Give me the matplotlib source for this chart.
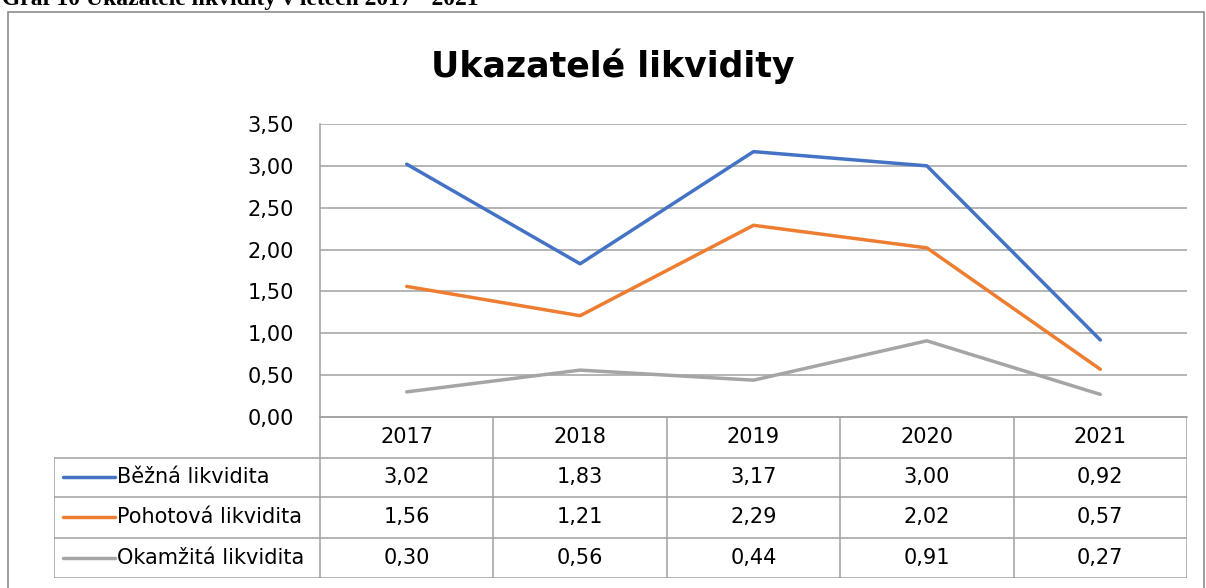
import matplotlib.pyplot as plt
import matplotlib.patches as patches
import numpy as np

# data
years = ['2017', '2018', '2019', '2020', '2021']
bezna = [3.02, 1.83, 3.17, 3.00, 0.92]
pohotova = [1.56, 1.21, 2.29, 2.02, 0.57]
okamzita = [0.30, 0.56, 0.44, 0.91, 0.27]
series_names = ['Běžná likvidita', 'Pohotová likvidita', 'Okamžitá likvidita']
colors = ['#4472C4', '#ED7D31', '#A5A5A5']
yticks = [0.0, 0.5, 1.0, 1.5, 2.0, 2.5, 3.0, 3.5]

plt.rcParams['font.family'] = ['DejaVu Sans']
W, H = 1206, 588
grid_c = '#A0A0A0'
fs = 15

def fx(px):
    return px / W

def fy(py):
    return 1 - py / H

fig = plt.figure(figsize=(W / 100, H / 100), dpi=100)

# caption (cut off at the top of the page, as in the source)
fig.text(fx(2), fy(5), 'Graf 10 Ukazatelé likvidity v letech 2017 - 2021',
         family='Liberation Serif', fontweight='bold', fontsize=17, va='baseline')

# outer chart frame
fig.patches.append(patches.Rectangle((fx(8), fy(590)), fx(1196), fy(12) - fy(590),
                                     transform=fig.transFigure, fill=False,
                                     edgecolor='#8C8C8C', linewidth=1.2))

fig.text(fx(613), fy(66), 'Ukazatelé likvidity', fontsize=25, fontweight='bold',
         ha='center', va='center')

# main plot
L, R, T, B = 320, 1187, 124, 417
ax = fig.add_axes([fx(L), fy(B), fx(R - L), fy(T) - fy(B)])
x = np.arange(len(years))
for vals, c in zip([bezna, pohotova, okamzita], colors):
    ax.plot(x, vals, color=c, linewidth=2.5, solid_capstyle='round')
ax.set_xlim(-0.5, len(years) - 0.5)
ax.set_ylim(0, 3.5)
ax.set_yticks(yticks)
ax.set_yticklabels([f'{v:.2f}'.replace('.', ',') for v in yticks], fontsize=fs)
ax.set_xticks([])
ax.tick_params(axis='y', length=0, pad=19)
ax.grid(axis='y', color=grid_c, linewidth=1.1)
for s in ['top', 'right']:
    ax.spines[s].set_visible(False)
ax.spines['left'].set_color(grid_c)
ax.spines['bottom'].set_color(grid_c)
ax.spines['left'].set_linewidth(1.1)
ax.spines['bottom'].set_linewidth(1.1)

# data table
TL, TB = 54, 578
tax = fig.add_axes([fx(TL), fy(TB), fx(R - TL), fy(B) - fy(TB)])
tax.set_xlim(TL, R)
tax.set_ylim(TB, B)
tax.axis('off')
row_edges = [417, 458, 497, 538, 578]
col_w = (R - L) / len(years)
col_edges = [L + i * col_w for i in range(len(years) + 1)]
lk = dict(color=grid_c, linewidth=1.1)
# horizontal lines
tax.plot([L, R], [row_edges[0]] * 2, **lk)
for ry in row_edges[1:]:
    tax.plot([TL, R], [ry, ry], **lk)
# vertical lines
for cx in col_edges:
    tax.plot([cx, cx], [row_edges[0], row_edges[-1]], **lk)
tax.plot([TL, TL], [row_edges[1], row_edges[-1]], **lk)

for i, yr in enumerate(years):
    cx = (col_edges[i] + col_edges[i + 1]) / 2
    tax.text(cx, (row_edges[0] + row_edges[1]) / 2, yr, fontsize=fs,
             ha='center', va='center')
for r, (name, vals, c) in enumerate(zip(series_names, [bezna, pohotova, okamzita], colors)):
    cy = (row_edges[r + 1] + row_edges[r + 2]) / 2
    tax.plot([63, 115], [cy, cy], color=c, linewidth=2.5, solid_capstyle='round')
    tax.text(117, cy, name, fontsize=fs, ha='left', va='center')
    for i, v in enumerate(vals):
        cx = (col_edges[i] + col_edges[i + 1]) / 2
        tax.text(cx, cy, f'{v:.2f}'.replace('.', ','), fontsize=fs,
                 ha='center', va='center')

fig.savefig('out.png', dpi=100)
